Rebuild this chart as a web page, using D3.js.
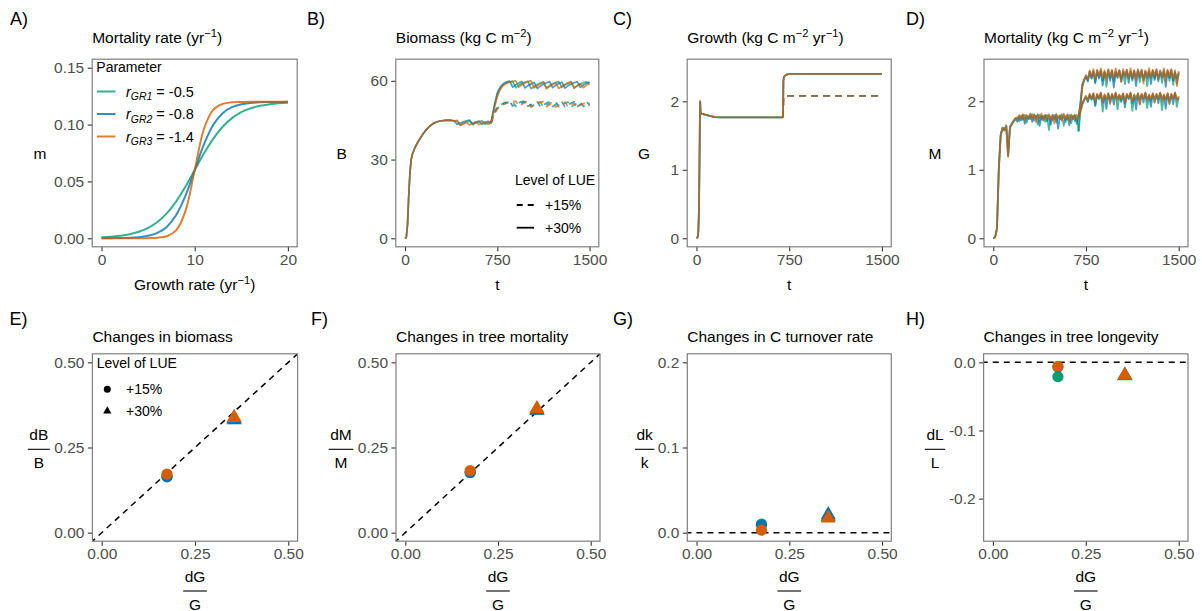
<!DOCTYPE html>
<html><head><meta charset="utf-8">
<script src="https://cdn.jsdelivr.net/npm/d3@7"></script>
<style>
body{margin:0;background:#fff}
text{font-family:"Liberation Sans",Arial,Helvetica,sans-serif}
</style>
</head><body>
<svg id="c" width="1202" height="611"></svg>
<script>
// ---------------- DATA ----------------
// Panel A: mortality rate vs growth rate
const growthRate = [0,1,2,3,4,5,6,7,8,9,10,11,12,13,14,15,16,17,18,19,20];
const m_r1 = [0.0008,0.0013,0.0022,0.0035,0.0057,0.0091,0.0143,0.0219,0.0323,0.0453,0.06,0.0747,0.0877,0.0981,0.1057,0.1109,0.1143,0.1165,0.1178,0.1187,0.1192];
const m_r2 = [0.00004,0.00009,0.0002,0.00044,0.00098,0.0022,0.0047,0.0100,0.0202,0.0372,0.06,0.0828,0.0998,0.1100,0.1153,0.1178,0.1190,0.1196,0.1198,0.1199,0.1200];
const m_r3 = [0,0,0,0,0,0.0001,0.00044,0.0018,0.0069,0.0237,0.06,0.0963,0.1131,0.1182,0.1196,0.1199,0.12,0.12,0.12,0.12,0.12];
const paramSub = ["GR1","GR2","GR3"];
const paramVal = ["-0.5","-0.8","-1.4"];
const lueLabels = ["+15%","+30%"];

// Panel B: biomass
const tB_pre = [0,10,20,30,40,50,60,80,100,125,150,175,200,225,250,275,300,325,350,375,400,425,450,475,500,525,550,575,600,625,650,675,700];
const B_pre_green  = [0,0.3,5,16,25,30,32,34.5,36.3,38.2,40,41.5,42.7,43.6,44.2,44.6,44.8,44.9,45.0,44.9,44.8,44.6,43.2,43.8,44.3,44.7,43.3,43.9,44.4,44.8,43.5,44.0,44.4];
const B_pre_blue   = [0,0.3,5,16,25,30,32,34.5,36.3,38.2,40,41.5,42.7,43.6,44.2,44.6,44.8,44.9,45.0,44.9,44.7,43.4,43.9,44.4,44.8,45.0,43.6,44.2,44.7,43.5,44.1,44.6,43.8];
const B_pre_orange = [0,0.3,5,16,25,30,32,34.5,36.3,38.2,40,41.5,42.7,43.6,44.2,44.6,44.8,44.9,45.0,44.9,44.8,44.9,43.0,43.6,44.2,43.2,43.8,44.4,43.3,43.9,44.4,43.4,44.0];
const tB_post = d3.range(725, 1501, 25);
const B30_green  = [50,54.8,57.2,58.6,59.3,59.6,59.8,57.4,58.3,59.0,59.5,59.8,57.0,57.9,58.6,59.2,59.6,57.3,58.2,58.9,59.4,59.7,57.5,58.4,59.0,59.5,57.2,58.1,58.8,59.3,59.6,59.0];
const B30_blue   = [50.5,55.5,57.8,59.0,59.6,59.9,57.6,58.5,59.2,59.7,57.3,58.2,58.9,59.4,57.1,58.0,58.7,59.3,59.7,57.4,58.3,59.0,59.5,57.2,58.1,58.8,59.3,59.7,57.5,58.4,59.1,59.5];
const B30_orange = [49.5,54.0,56.8,58.3,59.1,59.5,59.8,60.0,57.6,58.5,59.2,59.7,60.0,57.3,58.2,58.9,59.4,57.0,57.9,58.6,59.2,57.1,58.0,58.7,59.3,59.7,57.3,58.2,58.9,57.4,58.3,59.0];
const B15_green  = [47.5,49.5,50.5,51.2,51.7,52.0,52.2,50.3,51.0,51.6,52.0,52.2,50.2,50.9,51.5,51.9,50.0,50.8,51.4,51.9,52.1,50.1,50.9,51.5,51.9,50.0,50.8,51.4,51.9,50.2,51.0,51.6];
const B15_blue   = [48,50.0,50.9,51.5,51.9,52.2,50.4,51.1,51.7,52.1,52.3,50.3,51.0,51.6,52.0,50.1,50.9,51.5,52.0,50.2,51.0,51.6,52.0,50.1,50.9,51.5,52.0,50.2,51.0,51.6,52.0,50.8];
const B15_orange = [47.2,49.3,50.3,51.0,51.5,51.9,52.1,52.3,50.4,51.1,51.7,52.1,50.0,50.8,51.4,51.9,52.1,50.2,50.9,51.5,50.0,50.8,51.4,51.9,50.1,50.9,51.5,49.9,50.7,51.3,51.8,50.4];

// Panel C: growth (identical for the three parameters)
const tC_pre = [0,10,15,20,25,28,30,33,40,60,80,100,125,150,200,300,400,500,600,700];
const G_pre = [0,0.02,0.1,0.4,1.2,1.8,2.0,1.84,1.82,1.81,1.80,1.79,1.78,1.77,1.765,1.765,1.765,1.765,1.765,1.765];
const tC_post = [700,703,706,710,720,730,750,800,1000,1200,1500];
const G30 = [1.765,2.30,2.34,2.36,2.38,2.39,2.40,2.40,2.40,2.40,2.40];
const G15 = [1.765,2.03,2.06,2.07,2.075,2.08,2.08,2.08,2.08,2.08,2.08];

// Panel D: mortality flux
const tD_pre = d3.range(0, 691, 15);
const M_pre_green  = [0,0.02,0.14,1.02,1.50,1.60,1.57,1.63,1.20,1.61,1.66,1.71,1.73,1.77,1.71,1.79,1.73,1.80,1.69,1.78,1.74,1.81,1.72,1.79,1.66,1.80,1.73,1.79,1.70,1.80,1.58,1.78,1.72,1.80,1.69,1.78,1.74,1.81,1.64,1.78,1.73,1.80,1.68,1.79,1.71,1.80,1.56];
const M_pre_blue   = [0,0.02,0.16,1.05,1.52,1.62,1.59,1.65,1.22,1.63,1.67,1.72,1.75,1.70,1.78,1.72,1.80,1.67,1.79,1.74,1.81,1.70,1.80,1.75,1.81,1.64,1.79,1.73,1.80,1.71,1.79,1.66,1.80,1.74,1.81,1.60,1.79,1.73,1.80,1.70,1.81,1.65,1.79,1.74,1.80,1.67,1.79];
const M_pre_orange = [0,0.01,0.12,0.98,1.49,1.61,1.58,1.64,1.19,1.62,1.68,1.70,1.76,1.73,1.80,1.75,1.81,1.72,1.80,1.76,1.82,1.74,1.81,1.70,1.80,1.76,1.82,1.72,1.80,1.75,1.81,1.73,1.80,1.68,1.81,1.75,1.80,1.72,1.82,1.74,1.80,1.71,1.81,1.75,1.80,1.73,1.78];
const tD_post = d3.range(705, 1501, 15);
const M30_green  = [1.95,2.22,2.30,2.36,2.30,2.42,2.33,2.44,2.28,2.43,2.35,2.45,2.30,2.42,2.21,2.41,2.34,2.44,2.29,2.43,2.36,2.45,2.31,2.42,2.25,2.43,2.34,2.44,2.30,2.42,2.36,2.45,2.28,2.43,2.33,2.44,2.22,2.42,2.35,2.45,2.31,2.43,2.34,2.44,2.27,2.42,2.36,2.45,2.30,2.43,2.24,2.42,2.34,2.40];
const M30_blue   = [1.98,2.25,2.32,2.38,2.29,2.44,2.34,2.43,2.26,2.45,2.33,2.44,2.23,2.43,2.35,2.46,2.30,2.44,2.20,2.43,2.34,2.45,2.29,2.44,2.36,2.46,2.27,2.43,2.33,2.45,2.22,2.44,2.35,2.46,2.30,2.43,2.34,2.45,2.25,2.44,2.33,2.46,2.29,2.43,2.35,2.45,2.21,2.44,2.34,2.46,2.30,2.43,2.26,2.42];
const M30_orange = [1.92,2.20,2.31,2.37,2.33,2.45,2.36,2.47,2.32,2.46,2.38,2.48,2.34,2.45,2.30,2.47,2.37,2.46,2.33,2.48,2.36,2.45,2.28,2.47,2.38,2.46,2.33,2.48,2.35,2.45,2.31,2.47,2.37,2.46,2.26,2.45,2.36,2.48,2.34,2.46,2.38,2.47,2.32,2.45,2.36,2.48,2.29,2.46,2.37,2.47,2.33,2.45,2.22,2.44];
const M15_green  = [1.86,1.96,2.01,2.06,2.00,2.09,2.02,2.10,1.95,2.09,2.03,2.11,1.85,2.08,2.02,2.10,1.98,2.09,2.04,2.11,1.88,2.08,2.01,2.10,1.97,2.09,2.03,2.11,1.86,2.08,2.02,2.10,1.96,2.09,2.04,2.11,1.90,2.08,2.01,2.10,1.98,2.09,2.03,2.11,1.87,2.08,2.02,2.10,1.96,2.09,2.04,2.11,1.92,2.06];
const M15_blue   = [1.88,1.98,2.03,2.07,1.99,2.10,2.03,2.11,1.93,2.10,2.04,2.12,1.98,2.09,1.89,2.11,2.02,2.10,1.95,2.12,2.03,2.09,1.99,2.11,1.91,2.10,2.04,2.12,1.97,2.09,1.88,2.11,2.03,2.10,1.98,2.12,2.02,2.09,1.92,2.11,2.04,2.10,1.97,2.12,2.03,2.09,1.89,2.11,2.02,2.10,1.96,2.12,2.03,2.04];
const M15_orange = [1.84,1.95,2.02,2.08,2.02,2.11,2.04,2.12,2.00,2.11,2.05,2.13,1.99,2.10,2.04,2.12,1.96,2.11,2.05,2.13,2.01,2.10,2.04,2.12,1.98,2.11,2.05,2.13,2.00,2.10,2.04,2.12,1.95,2.11,2.05,2.13,2.01,2.10,2.04,2.12,1.99,2.11,2.05,2.13,2.00,2.10,2.04,2.12,1.97,2.11,2.05,2.13,2.01,2.08];

// Bottom row: relative changes; order [green, blue, orange]
const dG = [0.175, 0.355];           // +15%, +30%
const dBB_15 = [0.165, 0.164, 0.172];
const dBB_30 = [0.334, 0.331, 0.338];
const dMM_15 = [0.177, 0.176, 0.182];
const dMM_30 = [0.360, 0.359, 0.364];
const dkk_15 = [0.010, 0.009, 0.003];
const dkk_30 = [0.019, 0.021, 0.017];
const dLL_15 = [-0.021, -0.007, -0.006];
const dLL_30 = [-0.020, -0.019, -0.019];

const xTicksA = [0,10,20], yTicksA = [0,0.05,0.10,0.15];
const xTicksT = [0,750,1500], yTicksB = [0,30,60], yTicksCD = [0,1,2];
const xTicksS = [0,0.25,0.5], yTicksEF = [0,0.25,0.5], yTicksG = [0,0.1,0.2], yTicksH = [0,-0.1,-0.2];

// ---------------- DRAWING ----------------
const COL = ["#009E73", "#0072B2", "#D55E00"];
const svg = d3.select("#c");
const FS = 15.5;

function rich(g, x, y, parts, size, anchor, fill) {
  const t = g.append("text").attr("x", x).attr("y", y)
    .attr("text-anchor", anchor || "start").attr("fill", fill || "#000")
    .style("font-size", size + "px");
  let shift = 0;
  parts.forEach(p => {
    const ts = t.append("tspan").text(p.t);
    const target = p.sup ? -6 : (p.sub ? 3.5 : 0);
    if (target - shift !== 0) ts.attr("dy", target - shift);
    shift = target;
    if (p.sup || p.sub) ts.style("font-size", (size * 0.72) + "px");
    if (p.it) ts.style("font-style", "italic");
  });
  return t;
}

function panel(cfg) {
  const g = svg.append("g");
  const x = d3.scaleLinear().domain(cfg.xd).range([cfg.x0, cfg.x1]);
  const y = d3.scaleLinear().domain(cfg.yd).range([cfg.y1, cfg.y0]);
  const cid = "clip" + cfg.id;
  svg.append("clipPath").attr("id", cid).append("rect")
    .attr("x", cfg.x0).attr("y", cfg.y0).attr("width", cfg.x1 - cfg.x0).attr("height", cfg.y1 - cfg.y0);
  const plot = g.append("g").attr("clip-path", `url(#${cid})`);
  const ax = g.append("g").attr("transform", `translate(0,${cfg.y1})`)
    .call(d3.axisBottom(x).tickValues(cfg.xt).tickFormat(cfg.xf).tickSize(4.5).tickPadding(cfg.xpad));
  const ay = g.append("g").attr("transform", `translate(${cfg.x0},0)`)
    .call(d3.axisLeft(y).tickValues(cfg.yt).tickFormat(cfg.yf).tickSize(4.5).tickPadding(3.5));
  [ax, ay].forEach(a => {
    a.select(".domain").remove();
    a.selectAll("line").attr("stroke", "#333").attr("stroke-width", 1.1);
    a.selectAll("text").attr("fill", "#4d4d4d").style("font-size", FS + "px")
      .style("font-family", '"Liberation Sans",Arial,sans-serif');
  });
  const border = () => g.append("rect").attr("x", cfg.x0).attr("y", cfg.y0)
    .attr("width", cfg.x1 - cfg.x0).attr("height", cfg.y1 - cfg.y0)
    .attr("fill", "none").attr("stroke", "#7f7f7f").attr("stroke-width", 1.2);
  svg.append("text").attr("x", cfg.lx).attr("y", cfg.ly).style("font-size", "18px").text(cfg.letter);
  rich(svg, cfg.x0, cfg.ty, cfg.title, FS, "start");
  return { x, y, plot, g, border };
}

function frac(cx, lineY, num, den) {
  const g = svg.append("g");
  const n = g.append("text").attr("x", cx).attr("y", lineY - 9).attr("text-anchor", "middle").style("font-size", FS + "px").text(num);
  g.append("text").attr("x", cx).attr("y", lineY + 18.5).attr("text-anchor", "middle").style("font-size", FS + "px").text(den);
  const w = n.node().getComputedTextLength() + 3;
  g.append("line").attr("x1", cx - w / 2).attr("x2", cx + w / 2).attr("y1", lineY).attr("y2", lineY)
    .attr("stroke", "#000").attr("stroke-width", 1.1);
}

const TOP = { y0: 59.2, y1: 246.8, ty: 43.3, ly: 24.5, xpad: 3 };
const BOT = { y0: 353.8, y1: 541.2, ty: 341.5, ly: 324.5, xpad: 2.5 };
const fmt2 = d3.format(".2f"), fmt1 = d3.format(".1f"), fmt0 = d3.format("d");
const fmtH = d => d === 0 ? "0.0" : d3.format(".1f")(d).replace("−", "-");

// ---- Panel A ----
{
  const p = panel(Object.assign({ id: "A", x0: 92.2, x1: 297.2, xd: [-1, 21], yd: [-0.0075, 0.1575],
    xt: xTicksA, yt: yTicksA, xf: fmt0, yf: fmt2, lx: 10, letter: "A)",
    title: [{ t: "Mortality rate (yr" }, { t: "−1", sup: 1 }, { t: ")" }] }, TOP));
  const line = d3.line().x(d => p.x(d[0])).y(d => p.y(d[1])).curve(d3.curveCatmullRom);
  [m_r1, m_r2, m_r3].forEach((s, i) => {
    p.plot.append("path").attr("d", line(growthRate.map((g, j) => [g, s[j]])))
      .attr("fill", "none").attr("stroke", COL[i]).attr("stroke-width", 2).attr("stroke-opacity", 0.8);
  });
  p.border();
  svg.append("text").attr("x", 96.3).attr("y", 71.5).style("font-size", "14px").text("Parameter");
  [91.5, 114, 136.5].forEach((yy, i) => {
    svg.append("line").attr("x1", 97).attr("x2", 115.5).attr("y1", yy).attr("y2", yy)
      .attr("stroke", COL[i]).attr("stroke-width", 2).attr("stroke-opacity", 0.8);
    rich(svg, 126, yy + 5, [{ t: "r", it: 1 }, { t: paramSub[i], it: 1, sub: 1 }, { t: " = " + paramVal[i] }], 14.5, "start");
  });
  svg.append("text").attr("x", 40).attr("y", 158.5).attr("text-anchor", "middle").style("font-size", FS + "px").text("m");
  rich(svg, (92.2 + 297.2) / 2, 290, [{ t: "Growth rate (yr" }, { t: "−1", sup: 1 }, { t: ")" }], FS, "middle");
}

function tsLines(p, tPre, pres, tPost, p15, p30, sw, dash15) {
  const line = d3.line().x(d => p.x(d[0])).y(d => p.y(d[1]));
  const zipped = (t, v) => t.map((tt, j) => [tt, v[j]]);
  for (let i = 0; i < 3; i++) {
    const pre = zipped(tPre, pres[i]);
    const last = pre[pre.length - 1];
    const add = (data, dash) => {
      const path = p.plot.append("path").attr("d", line(data)).attr("fill", "none")
        .attr("stroke", COL[i]).attr("stroke-width", sw).attr("stroke-opacity", 0.7)
        .attr("stroke-linejoin", "round");
      if (dash) path.attr("stroke-dasharray", dash);
    };
    add(pre, null);
    add([last].concat(zipped(tPost, p15[i])), dash15);
    add([last].concat(zipped(tPost, p30[i])), null);
  }
}

// ---- Panel B ----
{
  const p = panel(Object.assign({ id: "B", x0: 395.8, x1: 598.8, xd: [-75, 1575], yd: [-3.25, 68.25],
    xt: xTicksT, yt: yTicksB, xf: fmt0, yf: fmt0, lx: 307, letter: "B)",
    title: [{ t: "Biomass (kg C m" }, { t: "−2", sup: 1 }, { t: ")" }] }, TOP));
  tsLines(p, tB_pre, [B_pre_green, B_pre_blue, B_pre_orange], tB_post,
    [B15_green, B15_blue, B15_orange], [B30_green, B30_blue, B30_orange], 1.7, "6,5");
  p.border();
  svg.append("text").attr("x", 515).attr("y", 185).style("font-size", "14px").text("Level of LUE");
  [[205, "6,5"], [227.7, null]].forEach((r, i) => {
    const l = svg.append("line").attr("x1", 516.7).attr("x2", 534).attr("y1", r[0]).attr("y2", r[0])
      .attr("stroke", "#000").attr("stroke-width", 1.8);
    if (r[1]) l.attr("stroke-dasharray", r[1]);
    svg.append("text").attr("x", 545).attr("y", r[0] + 5).style("font-size", "14px").text(lueLabels[i]);
  });
  svg.append("text").attr("x", 341.7).attr("y", 159).attr("text-anchor", "middle").style("font-size", FS + "px").text("B");
  svg.append("text").attr("x", (395.8 + 598.8) / 2).attr("y", 289.5).attr("text-anchor", "middle").style("font-size", FS + "px").text("t");
}

// ---- Panel C ----
{
  const p = panel(Object.assign({ id: "C", x0: 687.2, x1: 891.2, xd: [-75, 1575], yd: [-0.1245, 2.6145],
    xt: xTicksT, yt: yTicksCD, xf: fmt0, yf: fmt0, lx: 613, letter: "C)",
    title: [{ t: "Growth (kg C m" }, { t: "−2", sup: 1 }, { t: " yr" }, { t: "−1", sup: 1 }, { t: ")" }] }, TOP));
  tsLines(p, tC_pre, [G_pre, G_pre, G_pre], tC_post, [G15, G15, G15], [G30, G30, G30], 1.8, "7,5");
  p.border();
  svg.append("text").attr("x", 644).attr("y", 159).attr("text-anchor", "middle").style("font-size", FS + "px").text("G");
  svg.append("text").attr("x", (687.2 + 891.2) / 2).attr("y", 289.5).attr("text-anchor", "middle").style("font-size", FS + "px").text("t");
}

// ---- Panel D ----
{
  const p = panel(Object.assign({ id: "D", x0: 984, x1: 1188, xd: [-75, 1575], yd: [-0.1245, 2.6145],
    xt: xTicksT, yt: yTicksCD, xf: fmt0, yf: fmt0, lx: 906, letter: "D)",
    title: [{ t: "Mortality (kg C m" }, { t: "−2", sup: 1 }, { t: " yr" }, { t: "−1", sup: 1 }, { t: ")" }] }, TOP));
  tsLines(p, tD_pre, [M_pre_green, M_pre_blue, M_pre_orange], tD_post,
    [M15_green, M15_blue, M15_orange], [M30_green, M30_blue, M30_orange], 1.8, null);
  p.border();
  svg.append("text").attr("x", 935).attr("y", 159).attr("text-anchor", "middle").style("font-size", FS + "px").text("M");
  svg.append("text").attr("x", (984 + 1188) / 2).attr("y", 289.5).attr("text-anchor", "middle").style("font-size", FS + "px").text("t");
}

// ---- Scatter panels ----
const triSym = d3.symbol().type(d3.symbolTriangle).size(100);
function scatter(p, v15, v30) {
  for (let i = 0; i < 3; i++) {
    p.plot.append("circle").attr("cx", p.x(dG[0])).attr("cy", p.y(v15[i])).attr("r", 5.6).attr("fill", COL[i]);
    p.plot.append("path").attr("d", triSym()).attr("transform", `translate(${p.x(dG[1])},${p.y(v30[i])})`).attr("fill", COL[i]);
  }
}
function refLine(p, pts) {
  p.plot.append("line").attr("x1", p.x(pts[0][0])).attr("y1", p.y(pts[0][1]))
    .attr("x2", p.x(pts[1][0])).attr("y2", p.y(pts[1][1]))
    .attr("stroke", "#000").attr("stroke-width", 1.5).attr("stroke-dasharray", "6,5");
}

{
  const p = panel(Object.assign({ id: "E", x0: 92.4, x1: 297.6, xd: [-0.025, 0.525], yd: [-0.025, 0.525],
    xt: xTicksS, yt: yTicksEF, xf: fmt2, yf: fmt2, lx: 9.5, letter: "E)",
    title: [{ t: "Changes in biomass" }] }, BOT));
  refLine(p, [[-0.03, -0.03], [0.53, 0.53]]);
  scatter(p, dBB_15, dBB_30);
  p.border();
  svg.append("text").attr("x", 96.7).attr("y", 368.3).style("font-size", "14px").text("Level of LUE");
  svg.append("circle").attr("cx", 107.3).attr("cy", 389.3).attr("r", 3.5).attr("fill", "#000");
  svg.append("path").attr("d", d3.symbol().type(d3.symbolTriangle).size(30)()).attr("transform", "translate(107.3,411)").attr("fill", "#000");
  svg.append("text").attr("x", 126).attr("y", 394.3).style("font-size", "14px").text(lueLabels[0]);
  svg.append("text").attr("x", 126).attr("y", 416).style("font-size", "14px").text(lueLabels[1]);
  frac(38.8, 449.3, "dB", "B");
  frac((92.4 + 297.6) / 2, 591, "dG", "G");
}
{
  const p = panel(Object.assign({ id: "F", x0: 396, x1: 600, xd: [-0.025, 0.525], yd: [-0.025, 0.525],
    xt: xTicksS, yt: yTicksEF, xf: fmt2, yf: fmt2, lx: 311, letter: "F)",
    title: [{ t: "Changes in tree mortality" }] }, BOT));
  refLine(p, [[-0.03, -0.03], [0.53, 0.53]]);
  scatter(p, dMM_15, dMM_30);
  p.border();
  frac(341, 449.3, "dM", "M");
  frac((396 + 600) / 2, 591, "dG", "G");
}
{
  const p = panel(Object.assign({ id: "G", x0: 687.3, x1: 891.3, xd: [-0.025, 0.525], yd: [-0.01, 0.21],
    xt: xTicksS, yt: yTicksG, xf: fmt2, yf: fmt1, lx: 613, letter: "G)",
    title: [{ t: "Changes in C turnover rate" }] }, BOT));
  refLine(p, [[-0.03, 0], [0.53, 0]]);
  scatter(p, dkk_15, dkk_30);
  p.border();
  frac(644.7, 449.3, "dk", "k");
  frac((687.3 + 891.3) / 2, 591, "dG", "G");
}
{
  const p = panel(Object.assign({ id: "H", x0: 983.6, x1: 1188, xd: [-0.025, 0.525], yd: [-0.2625, 0.0125],
    xt: xTicksS, yt: yTicksH, xf: fmt2, yf: fmtH, lx: 906, letter: "H)",
    title: [{ t: "Changes in tree longevity" }] }, BOT));
  refLine(p, [[-0.03, 0], [0.53, 0]]);
  scatter(p, dLL_15, dLL_30);
  p.border();
  frac(935, 449.3, "dL", "L");
  frac((983.6 + 1188) / 2, 591, "dG", "G");
}
</script>
</body></html>
